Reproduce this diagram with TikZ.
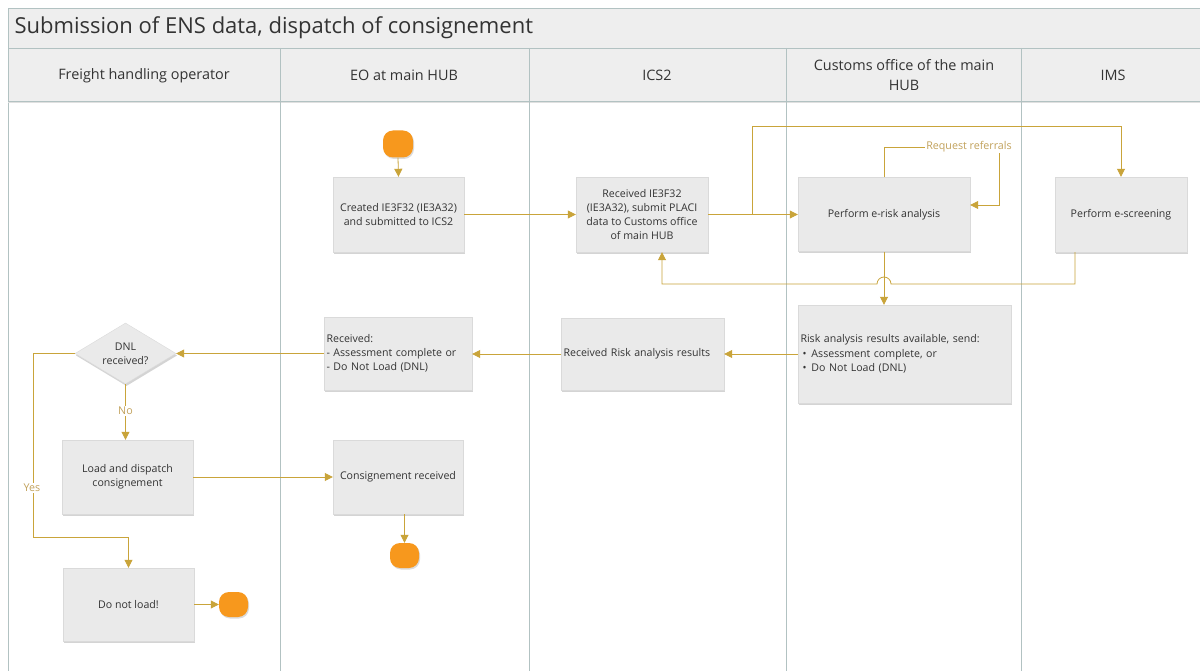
\documentclass[tikz,border=0pt]{standalone}
\usepackage{fontspec}
\setmainfont{Open Sans}
\usetikzlibrary{arrows.meta,shapes.geometric,shadows}
\definecolor{arr}{HTML}{C9A43A}
\definecolor{lbl}{HTML}{C2A25C}
\definecolor{txt}{HTML}{333333}
\definecolor{lane}{HTML}{B2C2C2}
\definecolor{band}{HTML}{EEEEEE}
\definecolor{boxf}{HTML}{EAEAEA}
\definecolor{boxd}{HTML}{DADADA}
\definecolor{term}{HTML}{F7981D}
\begin{document}
\begin{tikzpicture}[x=1pt,y=-1pt,
  shad/.style={drop shadow={shadow xshift=1pt, shadow yshift=-2pt, opacity=0.3, fill=black!55}},
  proc/.style={rectangle, draw=boxd, fill=boxf, text=txt, font=\fontsize{10.6}{14.2}\selectfont, inner sep=2.5pt, align=center, shad},
  lproc/.style={proc, align=left},
  termnode/.style={rectangle, rounded corners=10pt, fill=term, draw=none, minimum width=30pt, minimum height=27pt, inner sep=0pt, drop shadow={shadow xshift=1pt, shadow yshift=-1.5pt, opacity=0.25, fill=black!55}},
  dia/.style={diamond, draw=boxd, fill=boxf, minimum width=101pt, minimum height=61pt, inner sep=0pt, shad},
  conn/.style={draw=arr, line width=0.8pt, -{Triangle[length=8pt,width=8pt]}},
  clab/.style={fill=white, text=lbl, font=\fontsize{10.7}{12}\selectfont, inner sep=1pt},
  lanehead/.style={text=txt, font=\fontsize{14.4}{20}\selectfont, align=center}
]
\useasboundingbox (0,0) rectangle (1200,671);
\fill[white] (0,0) rectangle (1200,671);
% title and header bands
\fill[band] (8,8) rectangle (1210,101);
\draw[lane, line width=0.8pt] (1210,8) -- (8,8) -- (8,680);
\draw[lane, line width=0.8pt] (8,48) -- (1210,48);
\draw[lane, line width=0.8pt] (8,101) -- (1210,101);
\draw[black!12, line width=1.5pt] (8,102.5) -- (1210,102.5);
\foreach \xx in {280,529,786,1021} \draw[lane, line width=0.8pt] (\xx,48) -- (\xx,680);
\node[anchor=west, text=txt, font=\fontsize{22}{26}\selectfont] (title) at (11,27.5) {Submission of ENS data, dispatch of consignement};
\node[lanehead] (h1) at (144,75.5) {Freight handling operator};
\node[lanehead] (h2) at (404,75.5) {EO at main HUB};
\node[lanehead] (h3) at (657,75.5) {ICS2};
\node[lanehead] (h4) at (904,75) {Customs office of the main\\HUB};
\node[lanehead] (h5) at (1113,75.5) {IMS};
% nodes
\node[termnode] (start) at (398,144) {};
\node[proc, minimum width=131pt, minimum height=75pt] (box1) at (398.5,214.5) {Created IE3F32 (IE3A32)\\and submitted to ICS2};
\node[proc, minimum width=132pt, minimum height=75pt] (box2) at (642,214.5) {Received IE3F32\\(IE3A32), submit PLACI\\data to Customs office\\of main HUB};
\node[proc, minimum width=172pt, minimum height=74pt] (box3) at (884,214.5) {Perform e-risk analysis};
\node[proc, minimum width=132pt, minimum height=75pt] (box4) at (1121,214.5) {Perform e-screening};
\node[lproc, text width=208pt, minimum height=98pt] (box5) at (904.5,354) {Risk analysis results available, send:\\\hspace*{2pt}\textbullet\hspace{5pt}Assessment complete, or\\\hspace*{2pt}\textbullet\hspace{5pt}Do Not Load (DNL)};
\node[lproc, text width=158pt, minimum height=72pt] (box6) at (642.5,354) {Received Risk analysis results};
\node[lproc, text width=143pt, minimum height=73pt] (box7) at (398,353.5) {Received:\\- Assessment complete or\\- Do Not Load (DNL)};
\node[dia] (dnl) at (125.5,353.5) {};
\node[text=txt, font=\fontsize{10.6}{14.2}\selectfont, align=center] (dnlt) at (dnl.center) {DNL\\received?};
\node[proc, minimum width=131pt, minimum height=74pt] (box8) at (127.5,477) {Load and dispatch\\consignement};
\node[proc, minimum width=130pt, minimum height=74pt] (box9) at (398,477) {Consignement received};
\node[termnode, minimum width=29pt, minimum height=25pt] (end1) at (404.5,555.5) {};
\node[proc, minimum width=131pt, minimum height=73pt] (box10) at (128.5,604.5) {Do not load!};
\node[termnode, minimum width=29pt, minimum height=25pt] (end2) at (233.5,604.5) {};
% connectors
\draw[conn] (start.south) -- (box1.north);
\draw[conn] (box1.east) -- (box1.east -| box2.west);
\draw[conn] (box2.east) -- (box2.east -| box3.west);
\coordinate (br) at (752,214.5);
\draw[conn] (br) -- (752,126) -| (box4.north);
\draw[conn] (box3.north) |- (999,147) -- (999,205) -- (box3.east |- 999,205);
\node[clab] (rr) at (969,147) {Request referrals};
\draw[conn] ([xshift=-46pt]box4.south) |- (891,284) arc[start angle=0,end angle=180,radius=7pt] -| ([xshift=20pt]box2.south);
\draw[conn] (box3.south) -- (box3.south |- box5.north);
\draw[conn] (box5.west) -- (box5.west -| box6.east);
\draw[conn] (box6.west) -- (box6.west -| box7.east);
\draw[conn] (box7.west) -- (box7.west -| dnl.east);
\draw[conn] (dnl.south) -- (dnl.south |- box8.north) node[clab, pos=0.48] (no) {No};
\draw[conn] (dnl.west) -- (33,353.5) -- (33,537) -| (box10.north);
\node[clab] (yes) at (32,488) {Yes};
\draw[conn] (box8.east) -- (box8.east -| box9.west);
\draw[conn] (end1.north |- box9.south) -- (end1.north);
\draw[conn] (box10.east) -- (end2.west);
\end{tikzpicture}
\end{document}
